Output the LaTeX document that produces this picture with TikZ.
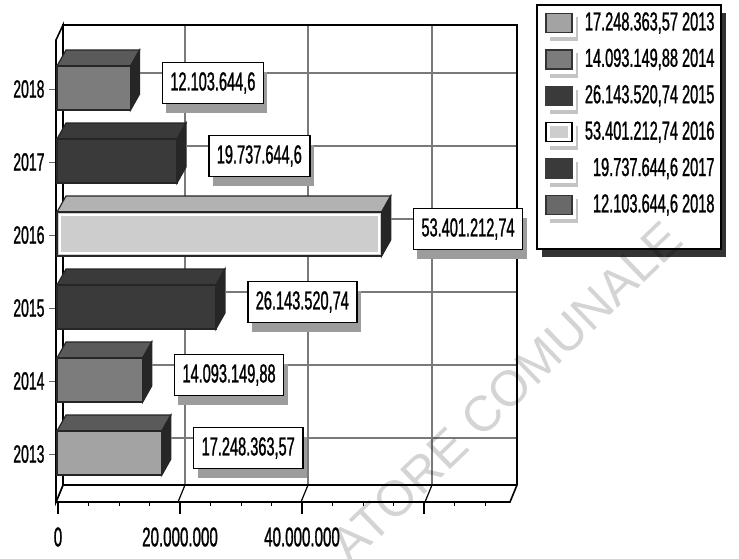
\documentclass[tikz,border=0pt]{standalone}
\usepackage{fontspec}
\setmainfont{Liberation Sans}[FakeStretch=0.56,FakeBold=1]
\newfontfamily\stampfont{Liberation Sans}
\usetikzlibrary{shadows}

\definecolor{barpale}{HTML}{A3A3A3}
\definecolor{barmid}{HTML}{7C7C7C}
\definecolor{bardark}{HTML}{3A3A3A}
\definecolor{barwhite}{HTML}{CDCDCD}
\definecolor{topdark}{HTML}{5A5A5A}
\definecolor{toppale}{HTML}{B2B2B2}
\definecolor{sidedark}{HTML}{262626}
\definecolor{gridgray}{HTML}{7A7A7A}
\definecolor{shadegray}{HTML}{9C9C9C}
\definecolor{shadelight}{HTML}{C4C4C4}

\tikzset{
  wall/.style={draw=black, line width=1.6pt, fill=white},
  gridline/.style={draw=gridgray, line width=1.1pt},
  barface/.style={draw=black!85, line width=1.2pt},
  valbox/.style={draw=black, line width=1.6pt, fill=white, inner xsep=8pt,
    minimum height=41pt, font=\fontsize{26}{26}\selectfont,
    drop shadow={shadow xshift=4pt, shadow yshift=-9pt, fill=shadegray, opacity=1}},
  yearlab/.style={anchor=east, font=\fontsize{25}{25}\selectfont},
  axislab/.style={font=\fontsize{27}{27}\selectfont},
  legbox/.style={draw=black, line width=2pt, fill=white, inner sep=0pt,
    drop shadow={shadow xshift=5pt, shadow yshift=-8pt, fill=black!80, opacity=1}},
  legtext/.style={anchor=east, font=\fontsize{26}{26}\selectfont},
  swatch/.style={minimum width=26pt, minimum height=19pt, inner sep=0pt, line width=1.5pt},
  sw2013/.style={swatch, fill=barpale, draw=black!80},
  sw2014/.style={swatch, fill=barmid, draw=black!80},
  sw2015/.style={swatch, fill=bardark, draw=bardark},
  sw2016/.style={swatch, fill=white, draw=black},
  sw2017/.style={swatch, fill=bardark, draw=bardark},
  sw2018/.style={swatch, fill=barmid!85!black, draw=black!80}
}

\begin{document}
\begin{tikzpicture}[x=1pt, y=-1pt]
\useasboundingbox (0,0) rectangle (739,558);

% back wall and grid
\fill[white] (63,25) rectangle (517,485);
\foreach \k in {0,...,5}
  \draw[gridline] (63,73+73*\k) -- (517,73+73*\k);
\foreach \gx in {185,308,432}
  \draw[gridline] (\gx,25) -- (\gx,485);

% floor and side wall
\filldraw[wall] (63,485) -- (517,485) -- (510,502) -- (56,502) -- cycle;
\foreach \gx in {185,308,432}
  \draw[line width=1.2pt] (\gx,485) -- ++(-7,17);
\filldraw[wall] (63,25) -- (63,485) -- (56,502) -- (56,40) -- cycle;
\draw[line width=1.8pt] (63,485) -- (63,25) -- (517,25) -- (517,485);

% value axis
\foreach \t in {0,...,14}
  \draw[line width=1pt] (58+30.5*\t,502) -- ++(0,4);
\foreach \t in {0,4,8,12}
  \draw[line width=1.2pt] (58+30.5*\t,502) -- ++(0,12);
\node[axislab] (x0) at (58,537) {0};
\node[axislab] (x20) at (180,537) {20.000.000};
\node[axislab] (x40) at (302,537) {40.000.000};

% bars with value labels
\foreach \yr/\v/\lab/\fc/\tc [count=\k from 0] in {
    2018/12.1036/{12.103.644,6}/barmid/topdark,
    2017/19.7376/{19.737.644,6}/bardark/bardark,
    2016/53.4012/{53.401.212,74}/barwhite/toppale,
    2015/26.1435/{26.143.520,74}/bardark/bardark,
    2014/14.0931/{14.093.149,88}/barmid/topdark,
    2013/17.2484/{17.248.363,57}/barpale/topdark}
{
  \pgfmathsetmacro\gy{73+73*\k}
  \pgfmathsetmacro\bx{57+6.08*\v}
  \filldraw[barface, fill=\tc] (57,\gy-7) -- ++(9,-16) -- (\bx+9,\gy-23) -- (\bx,\gy-7) -- cycle;
  \filldraw[barface, fill=sidedark] (\bx,\gy-7) -- ++(9,-16) -- ++(0,44) -- (\bx,\gy+37) -- cycle;
  \filldraw[barface, fill=\fc] (57,\gy-7) rectangle (\bx,\gy+37);
  \ifnum\yr=2016
    \draw[white, line width=1.8pt] (60,\gy-4) rectangle (\bx-3,\gy+34);
  \fi
  \coordinate (b\yr) at (\bx+9,\gy);
  \node[valbox, anchor=west] (v\yr) at (\bx+31,\gy+10) {\lab};
  \draw[gridline] (b\yr) -- (b\yr -| v\yr.west);
  \draw[line width=0.8pt, black!60] (49,\gy+16) -- (55,\gy+16);
  \node[yearlab] (y\yr) at (48,\gy+16) {\yr};
}

% legend
\node[legbox, anchor=north west, minimum width=184pt, minimum height=244pt] (leg) at (536,4) {};
\foreach \lt/\sw [count=\k from 0] in {
    {17.248.363,57 2013}/sw2013,
    {14.093.149,88 2014}/sw2014,
    {26.143.520,74 2015}/sw2015,
    {53.401.212,74 2016}/sw2016,
    {19.737.644,6 2017}/sw2017,
    {12.103.644,6 2018}/sw2018}
{
  \pgfmathsetmacro\ly{23+36.4*\k}
  \node[\sw] (s\k) at (559,\ly) {};
  \fill[shadelight] ([xshift=5pt,yshift=-4pt]s\k.south west) rectangle ([xshift=5pt,yshift=-8pt]s\k.south east);
  \fill[shadelight] ([xshift=3pt,yshift=-4pt]s\k.north east) rectangle ([xshift=5pt,yshift=-8pt]s\k.south east);
  \node[legtext] (l\k) at (718,\ly) {\lt};
}
\fill[barwhite] ([xshift=5pt,yshift=-4pt]s3.north west) rectangle ([xshift=-5pt,yshift=4pt]s3.south east);

% stamp
\node[rotate=44, text=black, opacity=0.17, font=\stampfont\fontsize{50}{50}\selectfont] (stamp) at (506,392) {ATORE COMUNALE};
\end{tikzpicture}
\end{document}
